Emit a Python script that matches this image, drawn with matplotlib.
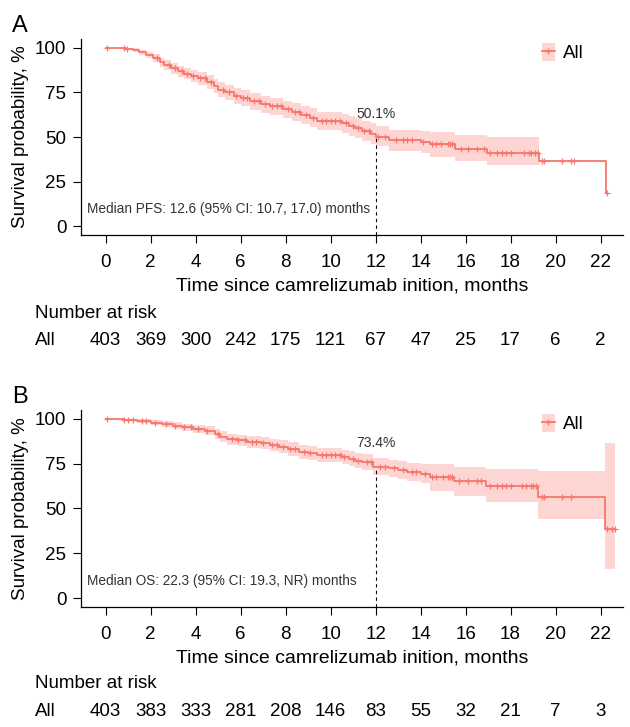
import numpy as np
import matplotlib
matplotlib.use("Agg")
import matplotlib.pyplot as plt
from matplotlib.patches import Patch
from matplotlib.lines import Line2D
from matplotlib.transforms import blended_transform_factory

plt.rcParams['font.family'] = ['Liberation Sans', 'DejaVu Sans']

RED = '#F8766D'
PINK = '#FDD6D3'

# ---- panel A: progression-free survival ----
pfs_time = [0, 0.9, 1.2, 1.5, 1.8, 2.1, 2.4, 2.6, 2.9, 3.2, 3.5, 3.8, 4.1, 4.5, 4.8, 5.0,
            5.3, 5.7, 6.0, 6.4, 6.9, 7.3, 7.9, 8.3, 8.7, 9.1, 9.4, 10.5, 10.8, 11.1, 11.4,
            11.8, 12.0, 12.6, 14.0, 14.4, 15.55, 16.95, 19.25, 22.25]
pfs_surv = [100, 99.4, 98.8, 97.5, 96.0, 94.2, 92.0, 90.5, 88.5, 86.8, 85.6, 84.3, 83.0, 80.8, 78.6, 76.6,
            75.0, 73.2, 71.9, 70.0, 68.4, 67.3, 65.5, 64.0, 62.5, 60.8, 59.0, 57.7, 56.2, 55.0, 53.5,
            51.8, 50.1, 48.2, 47.0, 45.8, 43.5, 41.3, 36.8, 18.6]
pfs_lower = [100, 98.6, 97.8, 96.0, 94.1, 92.0, 89.5, 87.8, 85.6, 83.7, 82.3, 80.9, 79.4, 77.0, 74.6, 72.5,
             70.8, 68.8, 67.4, 65.4, 63.7, 62.5, 60.6, 59.0, 57.4, 55.6, 53.7, 52.3, 50.7, 49.4, 47.8,
             46.0, 45.0, 42.4, 41.0, 39.0, 36.6, 34.2, 27.0, np.nan]
pfs_upper = [100, 100, 99.8, 99.0, 97.9, 96.4, 94.5, 93.2, 91.4, 89.9, 88.9, 87.7, 86.6, 84.6, 82.6, 80.7,
             79.2, 77.6, 76.4, 74.6, 73.1, 72.1, 70.4, 69.0, 67.6, 66.0, 64.3, 63.1, 61.7, 60.6, 59.2,
             57.6, 56.0, 54.2, 53.4, 52.8, 51.4, 49.9, 49.5, np.nan]
pfs_end = 22.3
pfs_censor = [0.05, 0.8, 0.95, 2.3, 2.8, 3.1, 3.4, 3.6, 3.9, 4.2, 4.4, 4.7, 5.2, 5.5, 5.8, 6.1, 6.3,
              6.6, 6.8, 7.1, 7.4, 7.6, 7.8, 8.1, 8.4, 8.6, 8.9, 9.2, 9.6, 9.8, 10.0, 10.2, 10.4, 10.7,
              11.0, 11.2, 11.5, 11.7, 12.1, 12.4, 12.9, 13.2, 13.4, 13.6, 14.1, 14.5, 14.7, 14.9,
              15.2, 15.3, 15.4, 15.8, 16.1, 16.5, 16.8, 17.1, 17.4, 17.6, 17.8, 18.0, 18.6, 18.8,
              18.9, 19.1, 19.2, 19.4, 19.5, 20.3, 20.7, 20.8, 22.3]
pfs_risk = [403, 369, 300, 242, 175, 121, 67, 47, 25, 17, 6, 2]
pfs_label = "Median PFS: 12.6 (95% CI: 10.7, 17.0) months"
pfs_rate = "50.1%"

# ---- panel B: overall survival ----
os_time = [0, 0.8, 1.4, 2.0, 2.5, 3.0, 3.4, 3.9, 4.4, 4.85, 5.1, 5.4, 5.9, 6.3, 6.9, 7.3, 7.7, 8.1,
           8.6, 9.0, 9.4, 10.5, 10.8, 11.1, 11.4, 11.9, 12.6, 13.0, 13.4, 14.0, 14.4, 15.5, 16.9,
           19.2, 22.2]
os_surv = [100, 99.5, 99.0, 98.0, 97.2, 96.2, 95.3, 94.5, 93.5, 91.5, 90.0, 88.7, 88.0, 87.3, 86.4,
           85.5, 84.5, 83.2, 81.7, 80.8, 79.9, 78.8, 77.8, 76.8, 75.8, 73.4, 72.4, 71.4, 70.6, 69.5,
           67.8, 65.4, 62.7, 56.6, 38.5]
os_lower = [100, 98.8, 98.0, 96.6, 95.6, 94.3, 93.2, 92.2, 91.0, 88.7, 87.0, 85.6, 84.8, 84.0, 83.0,
            82.0, 80.9, 79.5, 77.9, 76.9, 75.9, 74.7, 73.6, 72.5, 71.4, 68.8, 67.7, 66.5, 65.6, 64.3,
            59.8, 56.8, 53.5, 44.2, 16.2]
os_upper = [100, 100, 100, 99.4, 98.8, 98.1, 97.4, 96.8, 96.0, 94.3, 93.0, 91.8, 91.2, 90.6, 89.8,
            89.0, 88.1, 86.9, 85.5, 84.7, 83.9, 82.9, 82.0, 81.1, 80.2, 78.0, 77.1, 76.3, 75.6, 74.7,
            74.6, 73.0, 71.8, 71.2, 86.6]
os_end = 22.65
os_censor = [0.05, 0.8, 1.0, 1.2, 1.6, 1.8, 2.2, 2.7, 3.1, 3.5, 3.8, 4.1, 4.5, 5.0, 5.6, 5.9, 6.2,
             6.5, 6.7, 7.0, 7.4, 7.6, 7.9, 8.2, 8.4, 8.8, 9.1, 9.6, 9.8, 10.0, 10.2, 10.4, 10.6,
             11.0, 11.2, 11.6, 11.8, 12.2, 12.4, 12.8, 13.2, 13.6, 13.8, 14.2, 14.5, 14.7, 15.0,
             15.2, 15.3, 15.4, 15.7, 16.1, 16.5, 16.7, 17.1, 17.4, 17.6, 17.8, 18.0, 18.5, 18.7,
             18.9, 19.0, 19.15, 19.4, 19.5, 20.3, 20.7, 22.3, 22.5, 22.65]
os_risk = [403, 383, 333, 281, 208, 146, 83, 55, 32, 21, 7, 3]
os_label = "Median OS: 22.3 (95% CI: 19.3, NR) months"
os_rate = "73.4%"

risk_times = [0, 2, 4, 6, 8, 10, 12, 14, 16, 18, 20, 22]
landmark = 12

FS = 13.5


def draw_km(fig, rect, letter, time, surv, lower, upper, end, censor, risk, label, rate, top_px):
    ax = fig.add_axes(rect)
    t = np.array(time + [end])
    s = np.array(surv + [surv[-1]])
    lo = np.array(lower + [lower[-1]])
    hi = np.array(upper + [upper[-1]])

    ax.fill_between(t, lo, hi, step='post', color=PINK, linewidth=0)
    ax.step(t, s, where='post', color=RED, lw=1.3)

    # censoring ticks
    idx = np.searchsorted(t, censor, side='right') - 1
    ax.plot(censor, s[idx], linestyle='none', marker='+', color=RED, markersize=5, mew=0.9)

    # landmark line at 12 months
    s12 = s[np.searchsorted(t, landmark, side='right') - 1]
    ax.plot([landmark, landmark], [-5, s12], color='black', lw=0.8, dashes=(3, 3))
    ax.text(landmark, s12 + 13, rate, ha='center', va='center', fontsize=10, color='#333333')
    ax.text(-0.85, 9.5, label, ha='left', va='center', fontsize=9.8, color='#333333')

    ax.set_xlim(-1.1, 23.0)
    ax.set_ylim(-5, 105)
    ax.set_xticks(risk_times)
    ax.set_yticks([0, 25, 50, 75, 100])
    ax.tick_params(labelsize=FS, length=5.5, width=0.8, pad=5)
    ax.tick_params(axis='x', pad=8)
    for side in ['top', 'right']:
        ax.spines[side].set_visible(False)
    for side in ['left', 'bottom']:
        ax.spines[side].set_linewidth(0.9)
    ax.set_xlabel('Time since camrelizumab inition, months', fontsize=14, labelpad=5)
    ax.set_ylabel('Survival probability, %', fontsize=FS, labelpad=4)

    handle = (Patch(facecolor=PINK, edgecolor='none'),
              Line2D([], [], color=RED, marker='+', lw=1.3, markersize=5))
    ax.legend([handle], ['All'], loc='center left', bbox_to_anchor=(0.85, 0.93),
              frameon=False, fontsize=FS, handlelength=0.7, handleheight=1.1,
              handletextpad=0.45, borderpad=0, borderaxespad=0)

    fig.text(12 / 630, 1 - (top_px - 13) / 727, letter, fontsize=17, ha='left', va='center')

    # number at risk table
    trans = blended_transform_factory(ax.transData, fig.transFigure)
    fig.text(35 / 630, 1 - (top_px + 274) / 727, 'Number at risk', fontsize=FS, ha='left', va='center')
    fig.text(35 / 630, 1 - (top_px + 301) / 727, 'All', fontsize=FS, ha='left', va='center')
    for x, n in zip(risk_times, risk):
        ax.text(x, 1 - (top_px + 301) / 727, str(n), transform=trans, fontsize=FS,
                ha='center', va='center', clip_on=False)
    return ax


fig = plt.figure(figsize=(6.3, 7.27), dpi=100)
draw_km(fig, [81 / 630, 1 - 235 / 727, 542 / 630, 196 / 727], 'A',
        pfs_time, pfs_surv, pfs_lower, pfs_upper, pfs_end, pfs_censor, pfs_risk,
        pfs_label, pfs_rate, 39)
draw_km(fig, [81 / 630, 1 - 607 / 727, 542 / 630, 197 / 727], 'B',
        os_time, os_surv, os_lower, os_upper, os_end, os_censor, os_risk,
        os_label, os_rate, 410)

fig.savefig('out.png', dpi=100)
